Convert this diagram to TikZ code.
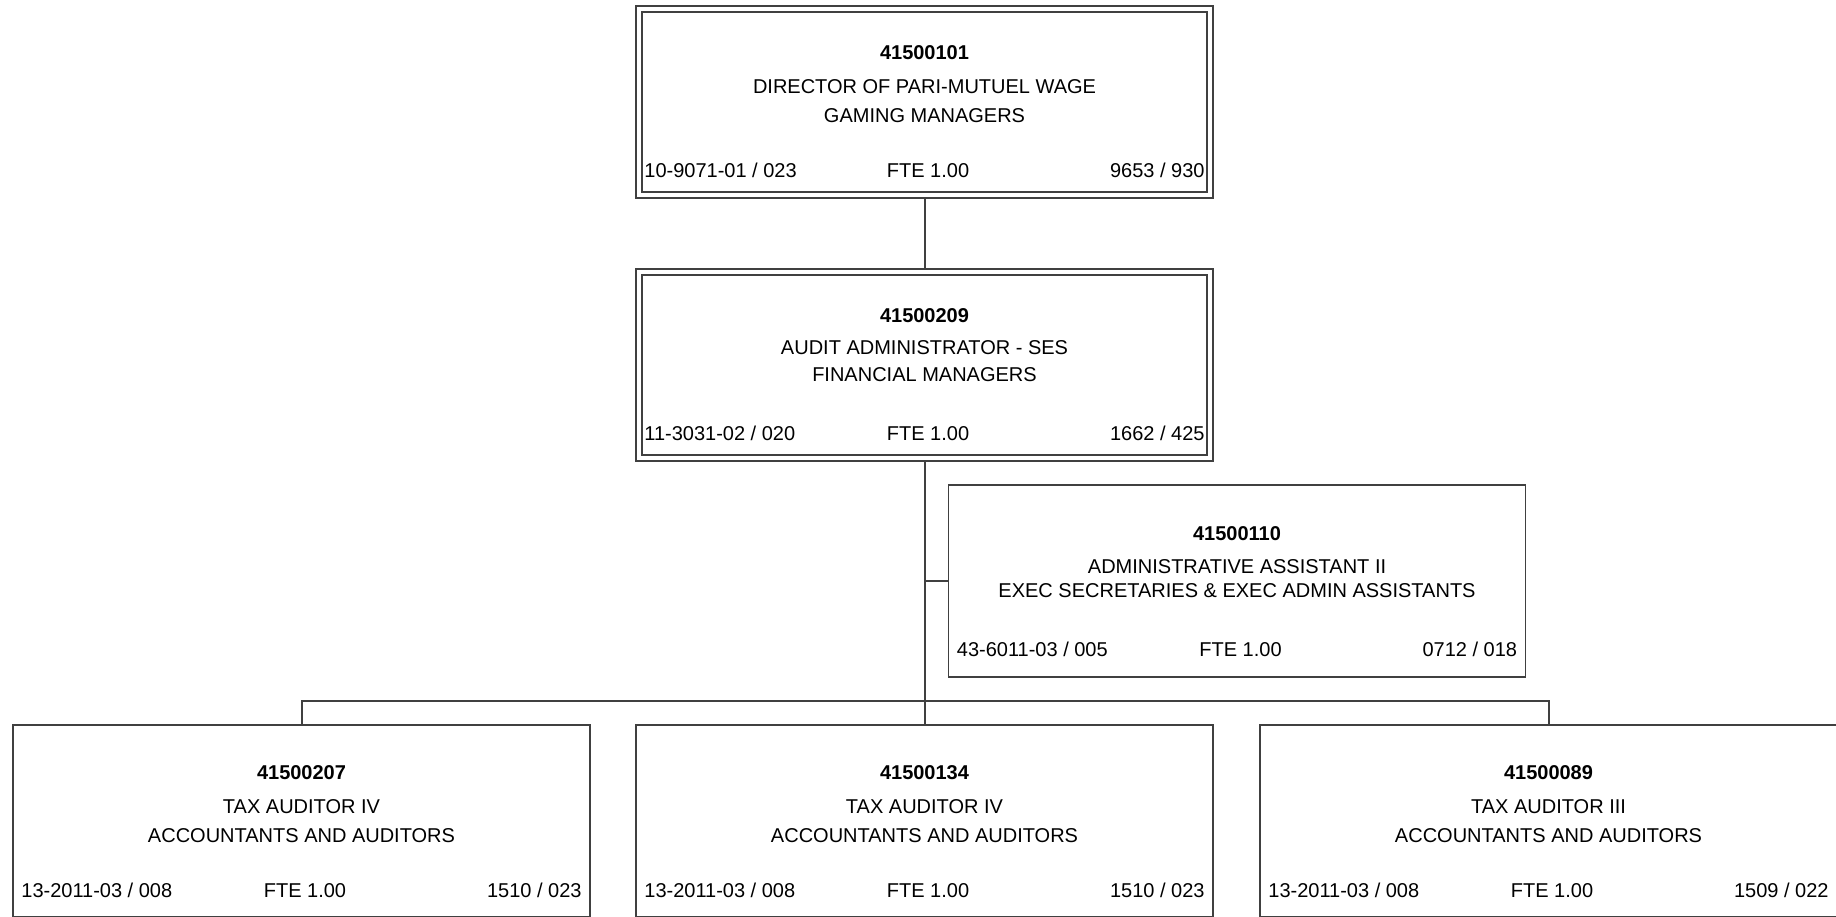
\documentclass[tikz,border=0pt]{standalone}
\usepackage{fontspec}
\setmainfont{Liberation Sans}
\begin{document}
\begin{tikzpicture}[x=0.5pt,y=-0.5pt,
  posbox/.style={draw=black!75, line width=0.6pt, minimum width=288.5pt,
    minimum height=96pt, inner sep=0pt, outer sep=0pt, anchor=north west},
  frameline/.style={draw=black!75, line width=0.6pt},
  txt/.style={inner sep=0pt, text height=7.2pt, text depth=0pt,
    font=\fontsize{10}{12}\selectfont},
  numtxt/.style={txt, font=\fontsize{10}{12}\selectfont\bfseries},
  link/.style={draw=black!75, line width=1pt},
]
\useasboundingbox (0,0) rectangle (1836,916);

% vertical offsets of the text rows inside a position box
\newcommand\rowsat[4]{\def\numdy{#1}\def\ladv{#2}\def\lbdv{#3}\def\rowdy{#4}}
% one position box: name, x, y, number, title, class, code, grade
\newcommand\posbox[8]{%
  \node[posbox] (#1) at (#2,#3) {};
  \node[numtxt] (#1-num) at ([shift={(288.5,\numdy)}]#1.north west) {#4};
  \node[txt] (#1-title) at ([shift={(288.5,\ladv)}]#1.north west) {#5};
  \node[txt] (#1-class) at ([shift={(288.5,\lbdv)}]#1.north west) {#6};
  \node[txt, anchor=west] (#1-code) at ([shift={(8,\rowdy)}]#1.north west) {#7};
  \node[txt] (#1-fte) at ([shift={(292,\rowdy)}]#1.north west) {FTE 1.00};
  \node[txt, anchor=east] (#1-grade) at ([shift={(569,\rowdy)}]#1.north west) {#8};
}
% inner line of a double-framed box
\newcommand\innerframe[1]{%
  \draw[frameline] ([shift={(6,6)}]#1.north west) rectangle ([shift={(-6,-6)}]#1.south east);
}

\rowsat{46}{80}{109}{164}
\posbox{top}{636}{6}{41500101}{DIRECTOR OF PARI-MUTUEL WAGE}{GAMING MANAGERS}{10-9071-01 / 023}{9653 / 930}
\innerframe{top}

\rowsat{46}{78}{105}{164}
\posbox{mid}{636}{269}{41500209}{AUDIT ADMINISTRATOR - SES}{FINANCIAL MANAGERS}{11-3031-02 / 020}{1662 / 425}
\innerframe{mid}

\rowsat{48}{81}{105}{164}
\posbox{asst}{948.5}{485}{41500110}{ADMINISTRATIVE ASSISTANT II}{EXEC SECRETARIES \& EXEC ADMIN ASSISTANTS}{43-6011-03 / 005}{0712 / 018}

\rowsat{47}{81}{110}{165}
\posbox{b1}{13}{725}{41500207}{TAX AUDITOR IV}{ACCOUNTANTS AND AUDITORS}{13-2011-03 / 008}{1510 / 023}
\posbox{b2}{636}{725}{41500134}{TAX AUDITOR IV}{ACCOUNTANTS AND AUDITORS}{13-2011-03 / 008}{1510 / 023}
\posbox{b3}{1260}{725}{41500089}{TAX AUDITOR III}{ACCOUNTANTS AND AUDITORS}{13-2011-03 / 008}{1509 / 022}

% reporting lines
\coordinate (bus) at (924.5,701);
\draw[link] (top.south) -- (mid.north);
\draw[link] (mid.south) -- (mid.south |- bus);
\draw[link] (mid.south |- asst.west) -- (asst.west);
\draw[link] (b1.north) -- (b1.north |- bus) -| (b3.north);
\draw[link] (b2.north) -- (b2.north |- bus);
\end{tikzpicture}
\end{document}
